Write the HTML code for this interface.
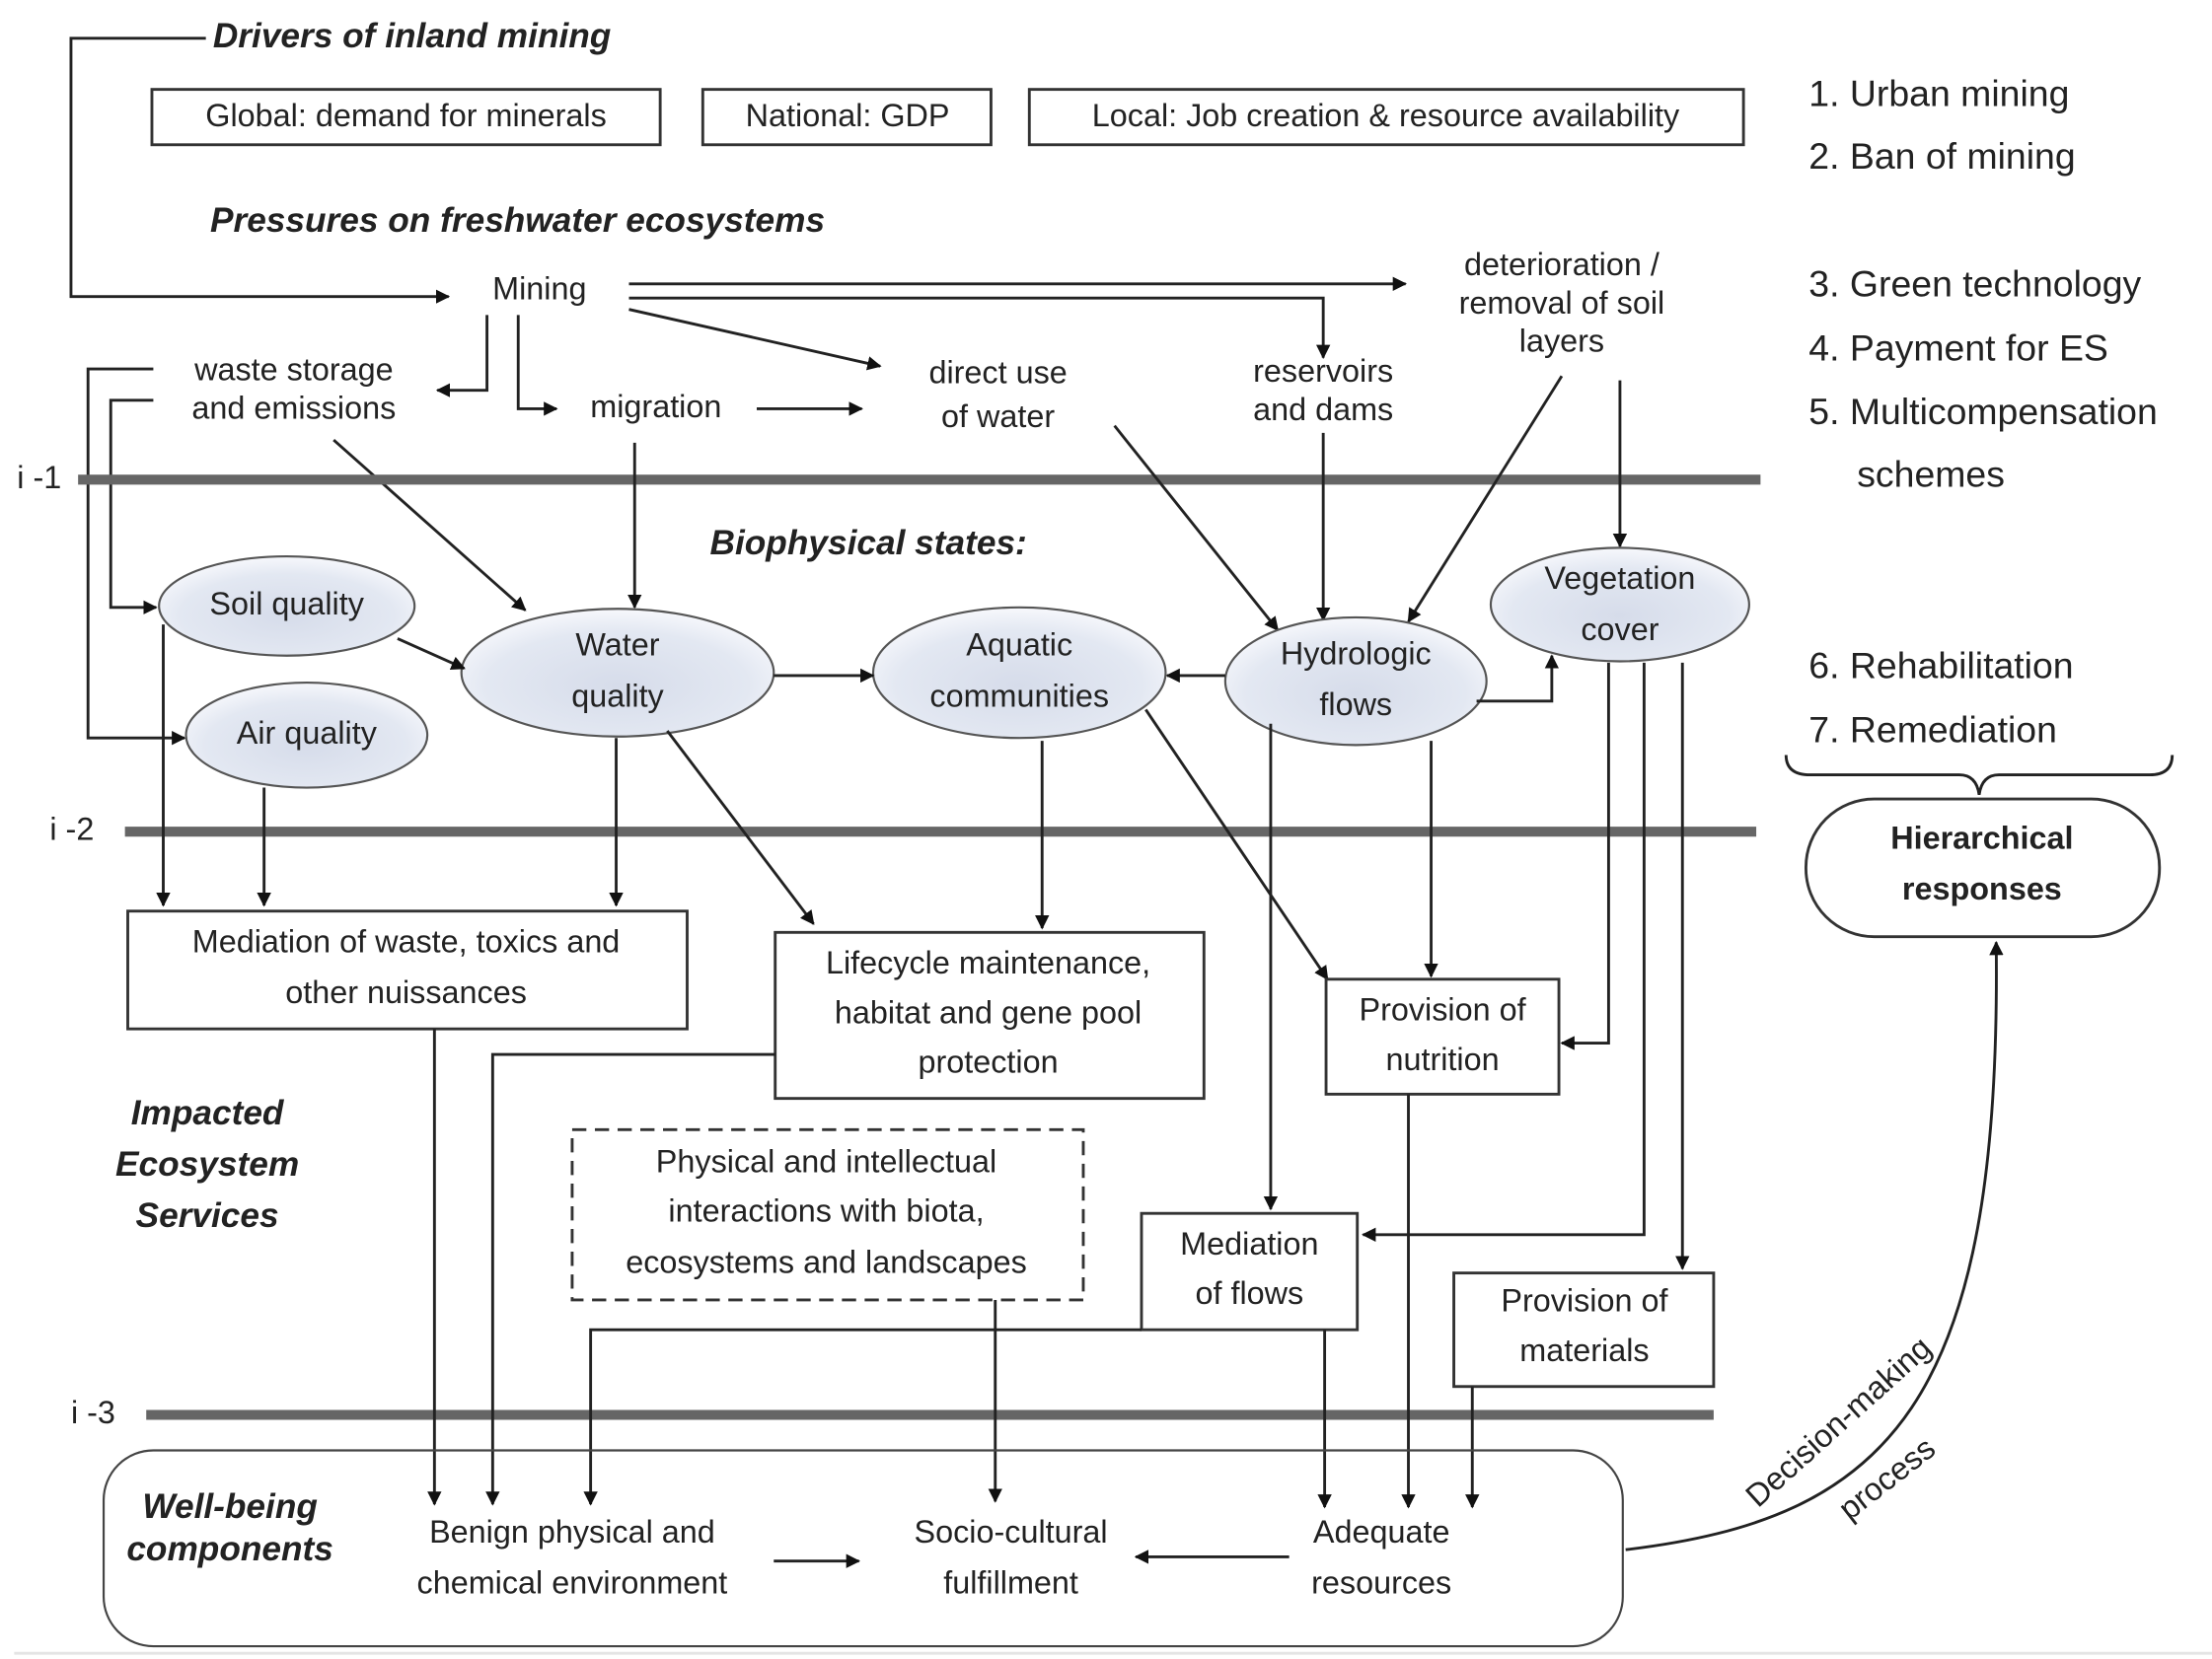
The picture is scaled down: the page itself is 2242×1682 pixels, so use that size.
<!DOCTYPE html>
<html><head><meta charset="utf-8"><style>
html,body{margin:0;padding:0;background:#fff;}
svg{display:block;}
text{font-family:"Liberation Sans",sans-serif;font-size:22.5px;fill:#222;}
.b{font-weight:bold;font-style:italic;font-size:24.5px;}
.r{font-size:26px;}
.c{text-anchor:middle;}
.ln{stroke:#222;stroke-width:2;fill:none;}
.bx{stroke:#333;stroke-width:2;fill:#fff;}
.lev{stroke:#666;stroke-width:7;}
</style></head><body>
<svg width="2242" height="1682" viewBox="0 0 1558 1169" preserveAspectRatio="none" xmlns="http://www.w3.org/2000/svg">
<defs>
<marker id="a" markerWidth="10" markerHeight="10" refX="9" refY="5" orient="auto" markerUnits="userSpaceOnUse"><path d="M0,0 L10,5 L0,10 z" fill="#111"/></marker>
<radialGradient id="g" cx="50%" cy="60%" r="60%"><stop offset="0" stop-color="#d6dcea"/><stop offset="0.7" stop-color="#e3e8f2"/><stop offset="1" stop-color="#f7f8fc"/></radialGradient>
</defs>
<g dominant-baseline="middle">
<text x="150" y="27" class="b">Drivers of inland mining</text>
<polyline class="ln" points="145,27 50,27 50,209 316,209" marker-end="url(#a)"/>
<rect class="bx" x="107" y="63" width="358" height="39"/><text x="286" y="83" class="c">Global: demand for minerals</text>
<rect class="bx" x="495" y="63" width="203" height="39"/><text x="597" y="83" class="c">National: GDP</text>
<rect class="bx" x="725" y="63" width="503" height="39"/><text x="976" y="83" class="c">Local: Job creation &amp; resource availability</text>
<text x="1274" y="68" class="r">1.  Urban mining</text>
<text x="1274" y="112" class="r">2.  Ban of mining</text>
<text x="1274" y="202" class="r">3.  Green technology</text>
<text x="1274" y="247" class="r">4.  Payment for ES</text>
<text x="1274" y="292" class="r">5.  Multicompensation</text>
<text x="1308" y="336" class="r">schemes</text>
<text x="1274" y="471" class="r">6.  Rehabilitation</text>
<text x="1274" y="516" class="r">7.  Remediation</text>
<path class="ln" d="M1258,532 Q1258,546 1275,546 L1380,546 Q1392,546 1394,560 Q1396,546 1408,546 L1514,546 Q1530,546 1530,532"/>
<rect class="bx" x="1272" y="563" width="249" height="97" rx="48"/>
<text x="1396" y="592" class="c" style="font-weight:bold">Hierarchical</text>
<text x="1396" y="628" class="c" style="font-weight:bold">responses</text>

<text x="148" y="157" class="b">Pressures on freshwater ecosystems</text>
<text x="380" y="205" class="c">Mining</text>
<line class="ln" x1="443" y1="200" x2="990" y2="200" marker-end="url(#a)"/>
<polyline class="ln" points="443,210 932,210 932,252" marker-end="url(#a)"/>
<line class="ln" x1="443" y1="218" x2="620" y2="258" marker-end="url(#a)"/>
<text x="1100" y="188" class="c">deterioration /</text>
<text x="1100" y="215" class="c">removal of soil</text>
<text x="1100" y="242" class="c">layers</text>
<polyline class="ln" points="343,222 343,275 308,275" marker-end="url(#a)"/>
<polyline class="ln" points="365,222 365,288 392,288" marker-end="url(#a)"/>
<text x="207" y="262" class="c">waste storage</text>
<text x="207" y="289" class="c">and emissions</text>
<text x="462" y="288" class="c">migration</text>
<line class="ln" x1="533" y1="288" x2="607" y2="288" marker-end="url(#a)"/>
<text x="703" y="264" class="c">direct use</text>
<text x="703" y="295" class="c">of water</text>
<text x="932" y="263" class="c">reservoirs</text>
<text x="932" y="290" class="c">and dams</text>
<polyline class="ln" points="108,260 62,260 62,520 130,520" marker-end="url(#a)"/>
<polyline class="ln" points="108,282 78,282 78,428 110,428" marker-end="url(#a)"/>
<line class="ln" x1="235" y1="310" x2="370" y2="430" marker-end="url(#a)"/>

<line class="lev" x1="55" y1="338" x2="1240" y2="338"/><text x="12" y="338">i -1</text>
<line class="lev" x1="88" y1="586" x2="1237" y2="586"/><text x="35" y="586">i -2</text>
<line class="lev" x1="103" y1="997" x2="1207" y2="997"/><text x="50" y="997">i -3</text>

<text x="500" y="384" class="b">Biophysical states:</text>
<line class="ln" x1="447" y1="312" x2="447" y2="428" marker-end="url(#a)"/>
<line class="ln" x1="785" y1="300" x2="900" y2="444" marker-end="url(#a)"/>
<line class="ln" x1="932" y1="305" x2="932" y2="437" marker-end="url(#a)"/>
<line class="ln" x1="1100" y1="265" x2="992" y2="438" marker-end="url(#a)"/>
<line class="ln" x1="1141" y1="268" x2="1141" y2="385" marker-end="url(#a)"/>

<ellipse cx="202" cy="427" rx="90" ry="35" fill="url(#g)" stroke="#555" stroke-width="1.5"/>
<text x="202" y="427" class="c">Soil quality</text>
<ellipse cx="216" cy="518" rx="85" ry="37" fill="url(#g)" stroke="#555" stroke-width="1.5"/>
<text x="216" y="518" class="c">Air quality</text>
<ellipse cx="435" cy="474" rx="110" ry="45" fill="url(#g)" stroke="#555" stroke-width="1.5"/>
<text x="435" y="456" class="c">Water</text><text x="435" y="492" class="c">quality</text>
<ellipse cx="718" cy="474" rx="103" ry="46" fill="url(#g)" stroke="#555" stroke-width="1.5"/>
<text x="718" y="456" class="c">Aquatic</text><text x="718" y="492" class="c">communities</text>
<ellipse cx="955" cy="480" rx="92" ry="45" fill="url(#g)" stroke="#555" stroke-width="1.5"/>
<text x="955" y="462" class="c">Hydrologic</text><text x="955" y="498" class="c">flows</text>
<ellipse cx="1141" cy="426" rx="91" ry="40" fill="url(#g)" stroke="#555" stroke-width="1.5"/>
<text x="1141" y="409" class="c">Vegetation</text><text x="1141" y="445" class="c">cover</text>

<line class="ln" x1="280" y1="450" x2="327" y2="471" marker-end="url(#a)"/>
<line class="ln" x1="545" y1="476" x2="615" y2="476" marker-end="url(#a)"/>
<line class="ln" x1="863" y1="476" x2="822" y2="476" marker-end="url(#a)"/>
<polyline class="ln" points="1040,494 1093,494 1093,462" marker-end="url(#a)"/>
<line class="ln" x1="115" y1="440" x2="115" y2="638" marker-end="url(#a)"/>
<line class="ln" x1="186" y1="555" x2="186" y2="638" marker-end="url(#a)"/>
<line class="ln" x1="434" y1="520" x2="434" y2="638" marker-end="url(#a)"/>
<line class="ln" x1="470" y1="515" x2="573" y2="651" marker-end="url(#a)"/>
<line class="ln" x1="734" y1="522" x2="734" y2="654" marker-end="url(#a)"/>
<line class="ln" x1="807" y1="500" x2="935" y2="690" marker-end="url(#a)"/>
<line class="ln" x1="1008" y1="522" x2="1008" y2="688" marker-end="url(#a)"/>
<line class="ln" x1="895" y1="510" x2="895" y2="852" marker-end="url(#a)"/>
<polyline class="ln" points="1133,467 1133,735 1100,735" marker-end="url(#a)"/>
<polyline class="ln" points="1158,467 1158,870 960,870" marker-end="url(#a)"/>
<line class="ln" x1="1185" y1="467" x2="1185" y2="894" marker-end="url(#a)"/>

<rect class="bx" x="90" y="642" width="394" height="83"/>
<text x="286" y="665" class="c">Mediation of waste, toxics and</text><text x="286" y="701" class="c">other nuissances</text>
<rect class="bx" x="546" y="657" width="302" height="117"/>
<text x="696" y="680" class="c">Lifecycle maintenance,</text><text x="696" y="715" class="c">habitat and gene pool</text><text x="696" y="750" class="c">protection</text>
<rect class="bx" x="934" y="690" width="164" height="81"/>
<text x="1016" y="713" class="c">Provision of</text><text x="1016" y="748" class="c">nutrition</text>
<rect x="403" y="796" width="360" height="120" fill="#fff" stroke="#333" stroke-width="2" stroke-dasharray="10,6"/>
<text x="582" y="820" class="c">Physical and intellectual</text><text x="582" y="855" class="c">interactions with biota,</text><text x="582" y="891" class="c">ecosystems and landscapes</text>
<rect class="bx" x="804" y="855" width="152" height="82"/>
<text x="880" y="878" class="c">Mediation</text><text x="880" y="913" class="c">of flows</text>
<rect class="bx" x="1024" y="897" width="183" height="80"/>
<text x="1116" y="918" class="c">Provision of</text><text x="1116" y="953" class="c">materials</text>
<text x="146" y="786" class="b c">Impacted</text><text x="146" y="822" class="b c">Ecosystem</text><text x="146" y="858" class="b c">Services</text>

<line class="ln" x1="306" y1="725" x2="306" y2="1060" marker-end="url(#a)"/>
<polyline class="ln" points="546,743 347,743 347,1060" marker-end="url(#a)"/>
<polyline class="ln" points="804,937 416,937 416,1060" marker-end="url(#a)"/>
<line class="ln" x1="701" y1="916" x2="701" y2="1058" marker-end="url(#a)"/>
<line class="ln" x1="933" y1="937" x2="933" y2="1062" marker-end="url(#a)"/>
<line class="ln" x1="992" y1="771" x2="992" y2="1062" marker-end="url(#a)"/>
<line class="ln" x1="1037" y1="977" x2="1037" y2="1062" marker-end="url(#a)"/>

<rect x="73" y="1022" width="1070" height="138" rx="35" fill="none" stroke="#444" stroke-width="1.5"/>
<text x="162" y="1063" class="b c">Well-being</text><text x="162" y="1093" class="b c">components</text>
<text x="403" y="1081" class="c">Benign physical and</text><text x="403" y="1117" class="c">chemical environment</text>
<line class="ln" x1="545" y1="1100" x2="605" y2="1100" marker-end="url(#a)"/>
<text x="712" y="1081" class="c">Socio-cultural</text><text x="712" y="1117" class="c">fulfillment</text>
<line class="ln" x1="908" y1="1097" x2="800" y2="1097" marker-end="url(#a)"/>
<text x="973" y="1081" class="c">Adequate</text><text x="973" y="1117" class="c">resources</text>

<path class="ln" d="M1145,1092 C1330,1070 1410,990 1406,664" marker-end="url(#a)"/>
<text x="1296" y="1003" class="c" transform="rotate(-42 1296 1003)">Decision-making</text>
<text x="1330" y="1043" class="c" transform="rotate(-38 1330 1043)">process</text>
<line x1="10" y1="1165" x2="1558" y2="1165" stroke="#e4e4e4" stroke-width="2"/>
</g>
</svg>
</body></html>
